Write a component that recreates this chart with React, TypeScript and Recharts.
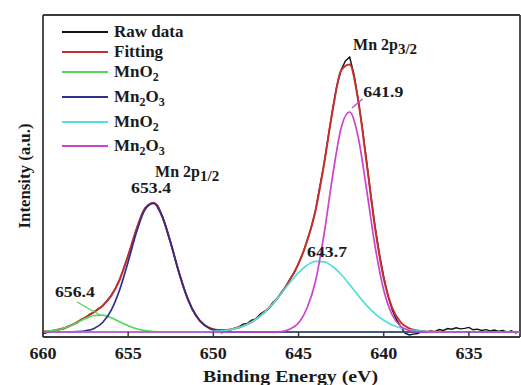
import React from "react";
import {
  LineChart,
  Line,
  XAxis,
  YAxis,
  Legend,
  ReferenceDot,
  ReferenceLine,
} from "recharts";

const FONT = '"Liberation Serif", "Times New Roman", serif';
const AXIS = "#3a3a3a";
const INK = "#1a1a1a";

// binding energy grid of the fitted components (eV)
const energy = [
  660, 659.5, 659, 658.5, 658, 657.5, 657, 656.5, 656, 655.5, 655, 654.5, 654, 653.5, 653,
  652.5, 652, 651.5, 651, 650.5, 650, 649.5, 649, 648.5, 648, 647.5, 647, 646.5, 646,
  645.5, 645, 644.5, 644, 643.5, 643, 642.5, 642, 641.5, 641, 640.5, 640, 639.5, 639,
  638.5, 638, 637.5, 637, 636.5, 636, 635.5, 635, 634.5, 634, 633.5, 633, 632.5, 632,
];

// MnO2, 2p1/2 shoulder (656.4)
const mno2Low = [
  0.4, 1.1, 2.7, 5.5, 9.5, 13.6, 16.5, 16.8, 14.3, 10.3, 6.2, 3.2, 1.4, 0.5, 0.1,
  0, 0, 0, 0, 0, 0, 0, 0, 0, 0, 0, 0, 0, 0, 0, 0, 0, 0, 0, 0, 0, 0, 0, 0, 0, 0, 0,
  0, 0, 0, 0, 0, 0, 0, 0, 0, 0, 0, 0, 0, 0, 0,
];

// Mn2O3, 2p1/2 (653.4)
const mn2o3Low = [
  0, 0, 0, 0, 0.3, 1.2, 3.6, 9.5, 21.7, 42.2, 70.3, 100.4, 122.8, 128.6, 115.4, 88.7,
  58.4, 32.9, 15.9, 6.6, 2.3, 0.7, 0.2, 0, 0, 0, 0, 0, 0, 0, 0, 0, 0, 0, 0, 0, 0, 0,
  0, 0, 0, 0, 0, 0, 0, 0, 0, 0, 0, 0, 0, 0, 0, 0, 0, 0, 0,
];

// MnO2, 2p3/2 (643.7)
const mno2High = [
  0, 0, 0, 0, 0, 0, 0, 0, 0, 0, 0, 0, 0, 0, 0, 0, 0, 0, 0, 0,
  0.6, 1.2, 2.4, 4.5, 7.8, 12.8, 19.7, 28.5, 38.8, 49.5, 59.3, 66.8, 70.6, 70.2, 65.5,
  57.5, 47.4, 36.6, 26.6, 18.2, 11.7, 7.0, 4.0, 2.1, 1.1, 0.5, 0.2,
  0, 0, 0, 0, 0, 0, 0, 0, 0, 0,
];

// Mn2O3, 2p3/2 (641.9)
const mn2o3High = [
  0, 0, 0, 0, 0, 0, 0, 0, 0, 0, 0, 0, 0, 0, 0, 0, 0, 0, 0, 0, 0, 0, 0, 0, 0, 0, 0, 0,
  0.4, 3, 9, 24, 51, 98, 156, 204, 220, 195, 142, 85, 42, 17, 5.6, 1.5, 0.3,
  0, 0, 0, 0, 0, 0, 0, 0, 0, 0, 0, 0,
];

// envelope of the fit
const fitting = [
  0.4, 1.1, 2.7, 5.5, 9.8, 14.8, 20.1, 26.3, 36.0, 52.5, 76.5, 103.6, 124.2, 129.1,
  115.5, 88.7, 58.4, 32.9, 15.9, 6.6, 2.9, 1.9, 2.6, 4.5, 7.8, 12.8, 19.7, 28.5, 39.2,
  52.5, 68.3, 90.8, 121.6, 168.2, 221.5, 261.5, 267.4, 231.6, 168.6, 103.2, 53.7, 24.0,
  9.6, 3.6, 1.4, 0.5, 0.2, 0, 0, 0, 0, 0, 0, 0, 0, 0, 0,
];

// measured spectrum
const rawEnergy = [
  660, 659.75, 659.5, 659.25, 659, 658.75, 658.5, 658.25, 658, 657.75, 657.5, 657.25,
  657, 656.75, 656.5, 656.25, 656, 655.75, 655.5, 655.25, 655, 654.75, 654.5, 654.25,
  654, 653.75, 653.5, 653.25, 653, 652.75, 652.5, 652.25, 652, 651.75, 651.5, 651.25,
  651, 650.75, 650.5, 650.25, 650, 649.75, 649.5, 649.25, 649, 648.75, 648.5, 648.25,
  648, 647.75, 647.5, 647.25, 647, 646.75, 646.5, 646.25, 646, 645.75, 645.5, 645.25,
  645, 644.75, 644.5, 644.25, 644, 643.75, 643.5, 643.25, 643, 642.75, 642.5, 642.25,
  642, 641.75, 641.5, 641.25, 641, 640.75, 640.5, 640.25, 640, 639.75, 639.5, 639.25,
  639, 638.75, 638.5, 638.25, 638, 637.75, 637.5, 637.25, 637, 636.75, 636.5, 636.25,
  636, 635.75, 635.5, 635.25, 635, 634.75, 634.5, 634.25, 634, 633.75, 633.5, 633.25,
  633, 632.75, 632.5, 632.25, 632,
];
const rawIntensity = [
  -1.5, -0.5, 0.8, 1.2, 2.9, 3.5, 5.8, 7.4, 9.2, 12.6, 14.3, 17.8,
  19.5, 23.4, 26.0, 31.2, 36.6, 43.5, 52.0, 64.3, 76.8, 89.1, 103.0, 114.9,
  123.8, 128.2, 129.5, 126.1, 116.2, 103.5, 89.4, 73.2, 58.9, 44.6, 33.5, 23.1,
  16.4, 10.2, 6.8, 3.6, 2.0, 0.4, -0.8, 0.6, 2.2, 3.9, 5.1, 7.9,
  8.6, 11.8, 13.2, 17.9, 20.6, 23.5, 29.7, 33.4, 39.8, 44.6, 53.1, 59.0,
  68.9, 78.5, 91.2, 104.8, 122.1, 145.6, 168.4, 196.0, 222.9, 246.3, 262.0, 271.0,
  275.0, 258.0, 233.0, 203.5, 170.2, 136.4, 104.6, 77.8, 55.3, 36.1, 22.0, 12.3,
  5.4, -1.2, -3.0, -2.1, -1.5, 0.6, -0.4, 1.1, 0.3, 2.4, 1.6, 3.5,
  2.8, 4.2, 3.1, 3.6, 4.6, 2.2, 2.9, 1.5, 2.4, 1.1, 2.0, 0.7,
  1.6, -0.2, 1.3, -1.0, 0.8,
];

const energyTicks = [660, 655, 650, 645, 640, 635];

// series, in plotting (and legend) order
const seriesNames = ["Raw data", "Fitting", "MnO2", "Mn2O3", "MnO2", "Mn2O3"];
const seriesColors = ["#111111", "#c43030", "#55d455", "#2e2e8c", "#55dede", "#cc44cc"];

// peak annotations
const noteText = ["Mn 2p", "641.9", "Mn 2p", "653.4", "656.4", "643.7"];
const noteSub = ["3/2", "", "1/2", "", "", ""];
const noteEnergy = [641.8, 641.2, 653.42, 654.83, 659.3, 644.5];
const noteLevel = [282, 235, 155, 139, 35, 75];

const rawRows = rawEnergy.map((e, i) => ({ energy: e, raw: rawIntensity[i] }));
const fitRows = energy.map((e, i) => ({
  energy: e,
  fitting: fitting[i],
  mno2Low: mno2Low[i],
  mn2o3Low: mn2o3Low[i],
  mno2High: mno2High[i],
  mn2o3High: mn2o3High[i],
}));

const legendRowTops = [0, 20, 40, 65, 90, 114];

function formula(name: string) {
  return name.split(/(\d)/).map((part, i) =>
    /\d/.test(part) ? (
      <sub key={i} style={{ fontSize: 12, verticalAlign: "-4px", lineHeight: 0 }}>
        {part}
      </sub>
    ) : (
      <span key={i}>{part}</span>
    )
  );
}

// legend drawn in series order (recharts sorts its payload by name)
function LegendBox() {
  return (
    <div style={{ position: "relative", width: 170, height: 140 }}>
      {seriesNames.map((name, i) => (
        <div
          key={i}
          style={{
            position: "absolute",
            left: 0,
            top: legendRowTops[i],
            height: 20,
            display: "flex",
            alignItems: "center",
          }}
        >
          <span
            style={{
              display: "inline-block",
              width: 46,
              height: 0,
              borderTop: `2px solid ${seriesColors[i]}`,
              marginRight: 6,
            }}
          />
          <span
            style={{
              font: `bold 17px ${FONT}`,
              color: INK,
              whiteSpace: "nowrap",
              lineHeight: "20px",
            }}
          >
            {formula(name)}
          </span>
        </div>
      ))}
    </div>
  );
}

function EnergyTick({ x, y, payload }: any) {
  return (
    <g>
      <line x1={x} y1={y} x2={x} y2={y - 5} stroke={AXIS} strokeWidth={1.5} />
      <text
        x={x}
        y={y + 22}
        textAnchor="middle"
        fontFamily={FONT}
        fontWeight="bold"
        fontSize={16}
        textLength={27}
        lengthAdjust="spacingAndGlyphs"
        fill={INK}
      >
        {payload.value}
      </text>
    </g>
  );
}

function EnergyLabel({ viewBox }: any) {
  return (
    <text
      x={viewBox.x + viewBox.width / 2 + 9}
      y={viewBox.y + 45}
      textAnchor="middle"
      fontFamily={FONT}
      fontWeight="bold"
      fontSize={17}
      textLength={175}
      lengthAdjust="spacingAndGlyphs"
      fill={INK}
    >
      Binding Energy (eV)
    </text>
  );
}

function IntensityLabel({ viewBox }: any) {
  const cx = viewBox.x + 24;
  const cy = viewBox.y + viewBox.height / 2;
  return (
    <text
      x={cx}
      y={cy}
      transform={`rotate(-90 ${cx} ${cy})`}
      textAnchor="middle"
      dominantBaseline="central"
      fontFamily={FONT}
      fontWeight="bold"
      fontSize={16}
      textLength={105}
      lengthAdjust="spacingAndGlyphs"
      fill={INK}
    >
      Intensity (a.u.)
    </text>
  );
}

function PeakNote({ viewBox, text, sub }: any) {
  if (!sub) {
    return (
      <text
        x={viewBox.x}
        y={viewBox.y}
        fontFamily={FONT}
        fontWeight="bold"
        fontSize={15}
        textLength={40}
        lengthAdjust="spacingAndGlyphs"
        fill={INK}
      >
        {text}
      </text>
    );
  }
  return (
    <text x={viewBox.x} y={viewBox.y} fontFamily={FONT} fontWeight="bold" fontSize={16} fill={INK}>
      {text}
      <tspan dy={4} fontSize={15}>
        {sub}
      </tspan>
    </text>
  );
}

export default function App() {
  const keys = ["raw", "fitting", "mno2Low", "mn2o3Low", "mno2High", "mn2o3High"];
  return (
    <div style={{ position: "absolute", left: 0, top: 0, background: "#fff" }}>
      <LineChart width={521} height={385} margin={{ top: 15, right: 1, bottom: 0, left: 0 }}>
        <XAxis
          dataKey="energy"
          type="number"
          domain={[632, 660]}
          reversed
          allowDataOverflow
          ticks={energyTicks}
          tickLine={false}
          tickSize={0}
          tickMargin={0}
          tick={<EnergyTick />}
          height={48}
          axisLine={{ stroke: AXIS, strokeWidth: 1.8 }}
          label={<EnergyLabel />}
        />
        <YAxis
          type="number"
          domain={[-5, 317]}
          allowDataOverflow
          tick={false}
          tickLine={false}
          width={43}
          axisLine={{ stroke: AXIS, strokeWidth: 1.8 }}
          label={<IntensityLabel />}
        />
        <ReferenceLine y={317} stroke={AXIS} strokeWidth={1.8} />
        <ReferenceLine x={632} stroke={AXIS} strokeWidth={1.8} />

        {keys.map((key, i) => (
          <Line
            key={key}
            data={i === 0 ? rawRows : fitRows}
            dataKey={key}
            name={seriesNames[i]}
            type={i === 0 ? "linear" : "monotone"}
            stroke={seriesColors[i]}
            strokeWidth={i === 0 ? 1.4 : i === 1 ? 2 : 1.7}
            dot={false}
            isAnimationActive={false}
          />
        ))}

        <ReferenceLine
          segment={[
            { x: 641.86, y: 224 },
            { x: 641.25, y: 233 },
          ]}
          stroke="#cc44cc"
          strokeWidth={1.4}
        />
        <ReferenceLine
          segment={[
            { x: 658.0, y: 30 },
            { x: 656.65, y: 17 },
          ]}
          stroke="#55d455"
          strokeWidth={1.4}
        />
        {noteText.map((t, i) => (
          <ReferenceDot
            key={i}
            x={noteEnergy[i]}
            y={noteLevel[i]}
            r={0}
            fill="none"
            stroke="none"
            label={<PeakNote text={t} sub={noteSub[i]} />}
          />
        ))}

        <Legend
          layout="vertical"
          align="center"
          verticalAlign="middle"
          wrapperStyle={{ left: 62, top: 22, width: 170, height: 140 }}
          content={<LegendBox />}
        />
      </LineChart>
    </div>
  );
}
